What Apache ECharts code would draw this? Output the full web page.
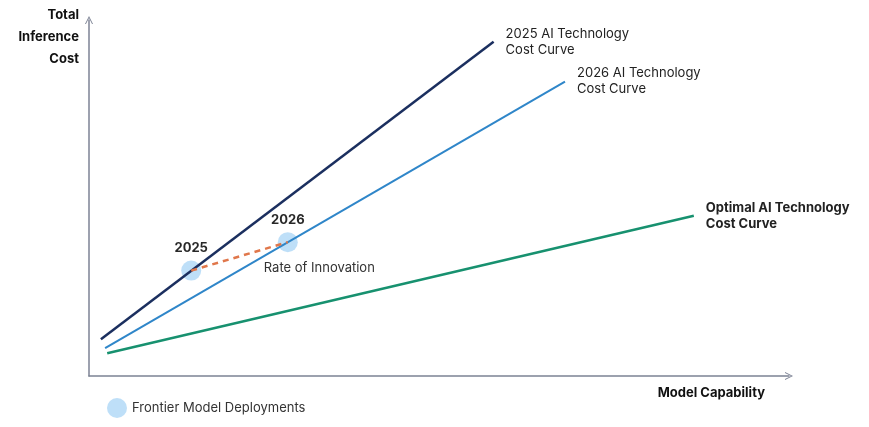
<!DOCTYPE html>
<html>
<head>
<meta charset="utf-8">
<script src="https://cdn.jsdelivr.net/npm/echarts@6/dist/echarts.min.js"></script>
<style>
  html, body { margin: 0; padding: 0; background: #fff; }
  #chart { width: 869px; height: 427px; }
</style>
</head>
<body>
<div id="chart"></div>
<script>
// cost curves (axes run 0..100, no units on the original)
const curveNames = ['2025 AI Technology\nCost Curve', '2026 AI Technology\nCost Curve', 'Optimal AI Technology\nCost Curve']
const curveStartX = [1.7, 2.3, 2.6]
const curveStartY = [10.3, 7.8, 6.4]
const curveEndX = [57.8, 68.0, 86.4]
const curveEndY = [93.9, 82.7, 45.0]

// frontier model deployments
const deployYears = ['2025', '2026']
const deployX = [14.6, 28.4]
const deployY = [29.6, 37.6]

const curveColors = ['#1b2f5f', '#2f86c9', '#17916f']
const curveWidths = [2.5, 2, 2.5]
const fontFamily = 'Inter, "Noto Sans", sans-serif'

const chart = echarts.init(document.getElementById('chart'))

const chevron = 'path://M0,10 L5,0 L10,10 L8.8,10 L5,2.4 L1.2,10 Z'

const curveSeries = curveNames.map((name, i) => ({
  name: name,
  type: 'line',
  z: 3,
  symbol: 'none',
  data: [[curveStartX[i], curveStartY[i]], [curveEndX[i], curveEndY[i]]],
  lineStyle: { color: curveColors[i], width: curveWidths[i] },
  endLabel: {
    show: true,
    formatter: name,
    distance: 12,
    color: '#222',
    fontFamily: fontFamily,
    fontSize: 13,
    lineHeight: 16,
    fontWeight: i === 2 ? 'bold' : 'normal'
  }
}))

const option = {
  animation: false,
  grid: { left: 89, right: 80, top: 20, bottom: 51 },
  legend: {
    data: ['Frontier Model Deployments'],
    left: 107,
    top: 398,
    padding: 0,
    icon: 'circle',
    itemWidth: 20,
    itemHeight: 20,
    textStyle: { color: '#333', fontSize: 13, fontFamily: fontFamily }
  },
  xAxis: {
    type: 'value',
    min: 0,
    max: 100,
    name: 'Model Capability',
    nameLocation: 'end',
    nameGap: -24,
    nameTextStyle: {
      color: '#111', fontWeight: 'bold', fontSize: 13, fontFamily: fontFamily,
      align: 'right', verticalAlign: 'top', padding: [11, 0, 0, 0]
    },
    axisLine: {
      lineStyle: { color: '#7c8294', width: 1.5 },
      symbol: ['none', chevron],
      symbolSize: [13, 8]
    },
    axisTick: { show: false },
    axisLabel: { show: false },
    splitLine: { show: false }
  },
  yAxis: {
    type: 'value',
    min: 0,
    max: 100,
    name: 'Total\nInference\nCost',
    nameLocation: 'end',
    nameGap: 16,
    nameTextStyle: {
      color: '#111', fontWeight: 'bold', fontSize: 13, fontFamily: fontFamily,
      align: 'right', verticalAlign: 'top', lineHeight: 22, padding: [0, 10, 0, 0]
    },
    axisLine: {
      lineStyle: { color: '#7c8294', width: 1.5 },
      symbol: ['none', chevron],
      symbolSize: [13, 8]
    },
    axisTick: { show: false },
    axisLabel: { show: false },
    splitLine: { show: false }
  },
  series: [
    {
      name: 'Frontier Model Deployments',
      type: 'scatter',
      z: 1,
      symbolSize: 20,
      itemStyle: { color: '#b7dbf7', opacity: 0.9 },
      data: deployYears.map((y, i) => ({
        value: [deployX[i], deployY[i]],
        label: {
          show: true,
          position: 'top',
          distance: 6,
          formatter: y,
          color: '#111',
          fontWeight: 'bold',
          fontSize: 13,
          fontFamily: fontFamily
        }
      }))
    },
    ...curveSeries,
    {
      name: 'Rate of Innovation',
      type: 'line',
      z: 4,
      symbol: 'circle',
      symbolSize: 1,
      itemStyle: { color: 'rgba(0,0,0,0)' },
      lineStyle: { color: '#e0774b', width: 2.5, type: [6, 5] },
      data: [
        { value: [deployX[0], deployY[0]] },
        {
          value: [deployX[1], deployY[1]],
          label: {
            show: true,
            position: 'bottom',
            align: 'left',
            offset: [-24, 14],
            formatter: 'Rate of Innovation',
            color: '#333',
            fontSize: 13,
            fontFamily: fontFamily
          }
        }
      ]
    }
  ]
}

chart.setOption(option)
</script>
</body>
</html>
